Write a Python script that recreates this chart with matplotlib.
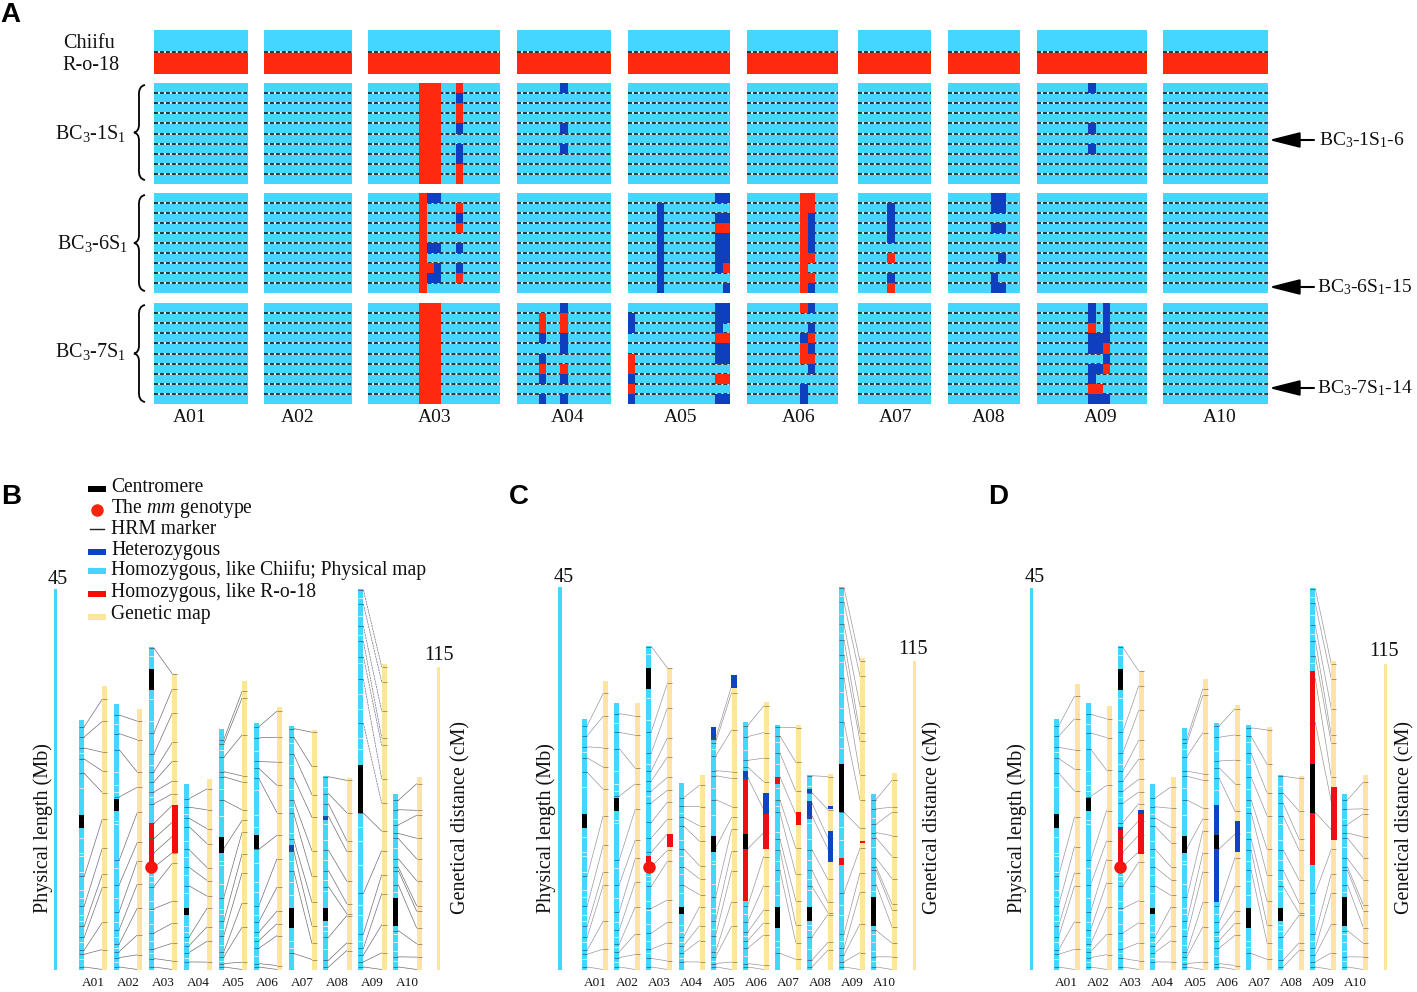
import numpy as np
import matplotlib
matplotlib.use('Agg')
import matplotlib.pyplot as plt
from matplotlib.colors import ListedColormap
from matplotlib.path import Path
from matplotlib.patches import PathPatch, Rectangle

plt.rcParams['font.family'] = ['Liberation Serif', 'DejaVu Serif']
plt.rcParams['mathtext.fontset'] = 'custom'
plt.rcParams['mathtext.rm'] = 'Liberation Serif'
plt.rcParams['mathtext.it'] = 'Liberation Serif:italic'
plt.rcParams['mathtext.default'] = 'regular'

CYAN = '#45D6FF'
RED_A = '#FF2A0E'
BLUE_A = '#0D3FBF'
RED_M = '#F00E0E'
BLUE_M = '#0B45C4'
YELLOW = '#FDE59B'

chroms = ['A01', 'A02', 'A03', 'A04', 'A05', 'A06', 'A07', 'A08', 'A09', 'A10']

# panel A: number of markers per chromosome, rows are plants in each family
n_markers = [13, 12, 18, 13, 14, 12, 10, 10, 15, 14]

# column index -> genotype of the 10 plants ('.' Chiifu, 'h' het, 'r' R-o-18)
bc3_1s1 = {
    'A03': {7: 'rrrrrrrrrr', 8: 'rrrrrrrrrr', 9: 'rrrrrrrrrr', 12: 'rhrrh.hhrr'},
    'A04': {6: 'h...h.h...'},
    'A09': {7: 'h...h.h...'},
}
bc3_6s1 = {
    'A03': {7: 'rrrrrrrrrr', 8: 'h....h.rh.', 9: 'h....h.hh.', 12: '.rhr.h.hr.'},
    'A05': {4: '.hhhhhhhhh', 12: 'h.hrhhhh..', 13: 'h.hrhhhr.h'},
    'A06': {7: 'rrrrrrrrrr', 8: 'rrhhhhr.rh'},
    'A07': {4: '.hhhh.r.hr'},
    'A08': {6: 'hh.h....hh', 7: 'hh.h..h..h'},
}
bc3_7s1 = {
    'A03': {7: 'rrrrrrrrrr', 8: 'rrrrrrrrrr', 9: 'rrrrrrrrrr'},
    'A04': {3: '.rrh.hrh.h', 6: 'hrrhh.rh.h'},
    'A05': {0: '.hh..rrhrh', 12: 'hhhrhh.r.h', 13: 'hh.rhh.r.h'},
    'A06': {7: 'r..hrr..hh', 8: 'h.hrhrh...'},
    'A09': {7: 'hhrhh.hhrh', 8: '...hh.h.rh', 9: 'hhhhrhr..h'},
}
families = [bc3_1s1, bc3_6s1, bc3_7s1]
family_labels = ['BC$_3$-1S$_1$', 'BC$_3$-6S$_1$', 'BC$_3$-7S$_1$']

# physical (Mb) and genetic (cM) map
phys_len = [29.5, 31.4, 38.1, 21.9, 28.5, 29.1, 28.8, 22.9, 45.0, 20.7]
gen_len = [107.6, 99.2, 112.4, 72.5, 109.5, 99.7, 91.1, 72.7, 116.2, 73.1]
centromere = [(16.7, 18.3), (18.7, 20.2), (33.0, 35.5), (6.5, 7.3), (13.8, 15.7),
              (14.2, 15.9), (4.9, 7.3), (5.7, 7.3), (18.5, 24.2), (5.1, 8.5)]

mk_phys = [
    [28.7, 27.5, 26.2, 24.9, 23.2, 11.0, 7.5, 5.1, 3.8, 2.3, 1.8, 0.3],
    [30.1, 27.9, 26.0, 20.4, 12.9, 10.0, 6.8, 4.7, 3.0, 2.1, 1.4, 0.3],
    [38.0, 28.0, 25.5, 23.4, 22.2, 21.0, 19.6, 17.3, 15.5, 13.8, 12.1, 9.8, 7.2, 4.3, 2.4, 1.3, 0.3],
    [20.2, 19.2, 17.9, 16.9, 14.2, 12.1, 9.9, 3.8, 2.8, 2.0, 0.9],
    [27.2, 26.7, 25.1, 23.4, 22.8, 20.0, 14.3, 8.5, 5.7, 4.0, 2.1, 1.5, 0.7, 0.3],
    [28.7, 27.4, 24.6, 23.8, 22.6, 14.2, 7.5, 5.6, 4.4, 3.4, 2.5, 0.7, 0.3],
    [28.5, 27.5, 25.5, 22.7, 20.0, 18.5, 15.4, 14.1, 11.7, 1.9],
    [22.8, 20.8, 19.6, 18.1, 14.1, 11.7, 9.8, 3.8, 1.1, 0.3],
    [44.9, 43.2, 40.6, 38.8, 37.0, 34.3, 29.1, 18.5, 9.0, 4.2, 2.5, 1.7, 0.9, 0.3],
    [20.0, 18.9, 17.1, 16.1, 15.5, 13.1, 12.1, 11.7, 10.0, 4.6, 1.5, 0.3],
]
mk_gen = [
    [102.9, 94.4, 82.6, 75.4, 67.2, 57.4, 46.3, 36.4, 31.4, 18.0, 7.6, 0.0],
    [94.4, 87.3, 75.0, 69.3, 59.8, 48.4, 41.4, 32.6, 23.4, 13.2, 5.6, 0.0],
    [112.4, 106.7, 97.5, 86.3, 79.2, 71.6, 66.8, 62.4, 56.0, 50.6, 44.4, 40.4, 25.9, 17.6, 10.0, 3.2, 0.0],
    [68.7, 60.7, 53.5, 47.8, 38.7, 33.8, 27.9, 23.4, 16.3, 10.8, 2.8],
    [105.7, 103.2, 89.2, 73.6, 71.2, 60.7, 56.7, 52.2, 44.0, 36.8, 25.3, 16.1, 2.8, 0.0],
    [98.2, 88.3, 78.8, 70.0, 59.6, 51.0, 42.1, 31.3, 22.2, 17.4, 12.9, 1.5, 0.0],
    [90.2, 77.2, 66.5, 57.9, 45.2, 35.5, 25.6, 16.7, 10.0, 3.8],
    [71.9, 59.6, 49.0, 44.9, 33.6, 25.0, 21.2, 20.5, 10.1, 7.2],
    [115.0, 109.3, 98.2, 88.1, 85.2, 72.5, 63.2, 52.6, 45.2, 36.0, 28.8, 17.0, 6.3, 0.0],
    [70.6, 60.5, 58.6, 49.9, 42.1, 33.8, 24.3, 22.2, 15.8, 9.8, 4.7, 0.0],
]
# pale stripes along the physical bars (SNP gaps)
phys_gaps = [
    [25.6, 21.5, 15.6, 13.8, 13.4, 11.5, 9.4, 8.5, 6.4, 5.7, 3.2, 1.2],
    [29.0, 23.4, 21.8, 21.0, 17.6, 17.2, 12.0, 8.4, 5.6, 3.8, 2.6, 0.9],
    [37.1, 32.0, 29.4, 24.2, 20.4, 11.0, 10.4, 8.1, 7.0, 5.4, 3.4, 1.9],
    [18.4, 15.2, 13.3, 11.2, 9.0, 5.2, 4.4, 3.2, 1.4],
    [26.0, 21.4, 18.2, 12.8, 12.4, 10.1, 7.2, 6.6, 4.8, 2.9, 1.0],
    [25.8, 21.2, 18.3, 16.8, 12.6, 10.4, 9.2, 6.5, 3.9, 1.6],
    [26.8, 24.2, 21.3, 19.2, 16.2, 12.8, 10.4, 8.8, 3.4, 2.6],
    [21.6, 17.2, 15.3, 12.9, 10.6, 9.3, 5.2, 4.6, 2.4],
    [43.9, 41.8, 39.6, 36.2, 32.6, 30.8, 27.4, 26.1, 16.8, 15.2, 12.4, 7.6, 6.4, 3.4],
    [17.8, 14.4, 9.2, 4.2, 3.2, 2.2, 1.0],
]

# genotype stretches per panel: (chromosome index, start, end, colour code)
panel_b_phys = [(2, 12.1, 17.3, 'r'), (6, 13.9, 14.7, 'h'), (7, 17.7, 18.1, 'h')]
panel_b_gen = [(2, 44.4, 62.4, 'r')]
panel_c_phys = [(2, 12.7, 13.3, 'r'), (4, 27.0, 28.5, 'h'), (5, 22.4, 23.4, 'h'), (5, 8.1, 22.4, 'r'),
                (6, 21.8, 22.7, 'r'), (7, 20.8, 21.2, 'h'), (7, 17.7, 19.8, 'h'), (8, 12.3, 13.1, 'r')]
panel_c_gen = [(2, 45.5, 50.6, 'r'), (4, 104.8, 109.9, 'h'), (5, 57.9, 65.8, 'h'), (5, 44.9, 57.9, 'r'),
               (6, 53.7, 58.6, 'r'), (7, 59.8, 61.1, 'h'), (7, 40.2, 51.8, 'h'), (8, 47.3, 48.0, 'r')]
panel_d_phys = [(2, 16.4, 16.8, 'h'), (2, 12.6, 16.4, 'r'), (5, 8.0, 19.4, 'h'), (8, 12.3, 35.2, 'r')]
panel_d_gen = [(2, 58.6, 60.2, 'h'), (2, 43.3, 58.6, 'r'), (5, 44.2, 55.8, 'h'), (8, 48.7, 68.8, 'r')]
mm_locus = 12.1

W, H = 1417, 992
fig = plt.figure(figsize=(W / 100, H / 100), dpi=100)


def px_axes(left, top, right, bottom):
    ax = fig.add_axes([left / W, 1 - bottom / H, (right - left) / W, (bottom - top) / H])
    ax.axis('off')
    return ax


# overlay used only for labels and decorations, in pixels
ov = fig.add_axes([0, 0, 1, 1], zorder=10)
ov.set_xlim(0, W)
ov.set_ylim(H, 0)
ov.axis('off')


def label(x, y, s, size=14, **kw):
    kw.setdefault('ha', 'center')
    kw.setdefault('va', 'center')
    if 'rotation' in kw:
        x += 2.5
    elif '$' not in s:
        y += 2
    ov.text(x, y, s, fontsize=size, color='#111111', **kw)


# ---- panel A ----
block_left = [154, 264, 368, 517, 628, 747, 858, 948, 1037, 1163]
block_right = [248, 352, 500, 611, 730, 838, 931, 1020, 1147, 1268]
chrom_label_x = [190, 298, 435, 568, 681, 799, 896, 989, 1101, 1220]
cmap_a = ListedColormap([BLUE_A, RED_A])
codes = {'h': 0, 'r': 1}
dash = (0, (2.6, 1.3))

for i, name in enumerate(chroms):
    # parents
    ax = px_axes(block_left[i], 30, block_right[i], 74)
    ax.set_xlim(0, 1)
    ax.set_ylim(2, 0)
    ax.barh([0.5, 1.5], [1, 1], height=1, color=[CYAN, RED_A])
    ax.hlines(1, 0, 1, color='white', lw=1.1)
    ax.hlines(1, 0, 1, color='k', lw=1.1, linestyles=dash)

    for fam, top, bot in zip(families, [83, 193, 303], [184, 293, 404]):
        ax = px_axes(block_left[i], top, block_right[i], bot)
        n = n_markers[i]
        mat = np.full((10, n), np.nan)
        for col, calls in fam.get(name, {}).items():
            for row, c in enumerate(calls):
                if c in codes:
                    mat[row, col] = codes[c]
        ax.set_facecolor(CYAN)
        ax.axis('on')
        ax.set_xticks([])
        ax.set_yticks([])
        for s in ax.spines.values():
            s.set_visible(False)
        ax.set_xlim(0, n)
        ax.set_ylim(10, 0)
        rows = np.arange(1, 10)
        ax.hlines(rows, 0, n, color='white', lw=1.1, zorder=1)
        ax.hlines(rows, 0, n, color='k', lw=1.1, linestyles=dash, zorder=2)
        ax.pcolormesh(np.arange(n + 1), np.arange(11), np.ma.masked_invalid(mat),
                      cmap=cmap_a, vmin=0, vmax=1, zorder=3)
    label(chrom_label_x[i], 415, name, 14)

label(89, 41.5, 'Chiifu', 14.5)
label(91, 64, 'R-o-18', 14.5)

for lab, lx, ly, top, bot in zip(family_labels, [90, 92, 90], [133, 244, 352], [85, 195, 305], [180, 291, 402]):
    label(lx, ly, lab, 14.5)
    cy = (top + bot) / 2
    verts = [(145, top), (138, top + 1), (139, top + 12), (139, cy - 8), (139, cy - 8), (139, cy - 1),
             (134, cy), (139, cy + 1), (139, cy + 8), (139, cy + 8), (139, bot - 12), (138, bot - 1), (145, bot)]
    pcodes = [Path.MOVETO, Path.CURVE3, Path.CURVE3, Path.LINETO, Path.LINETO, Path.CURVE3, Path.CURVE3,
              Path.CURVE3, Path.CURVE3, Path.LINETO, Path.LINETO, Path.CURVE3, Path.CURVE3]
    ov.add_patch(PathPatch(Path(verts, pcodes), fc='none', ec='k', lw=1.3))

for txt, tx, ay in zip(['BC$_3$-1S$_1$-6', 'BC$_3$-6S$_1$-15', 'BC$_3$-7S$_1$-14'], [1319, 1317, 1317], [140, 287, 388]):
    ov.annotate('', xy=(1269, ay), xytext=(1314, ay),
                arrowprops=dict(arrowstyle='-|>,head_length=1.9,head_width=0.48', color='k', lw=1.5,
                                shrinkA=0, shrinkB=0))
    label(tx, ay, txt, 14, ha='left')


# ---- panels B, C, D ----
def draw_map(x0, step, gen_off, ref_left, ref_right, top, gen_top, bottom,
             seg_phys, seg_gen, line_col, dashed_top=False):
    ax = px_axes(x0 - step, top, x0 + 11 * step, bottom)
    ax.set_xlim(-1, 11)
    ax.set_ylim(0, 45)
    off = gen_off / step
    bw = 5 / step
    k = 45 * (bottom - gen_top) / (bottom - top) / 115

    ax.bar((ref_left - x0) / step, 45, width=3.5 / step, color=CYAN, align='center')
    ax.bar((ref_right - x0) / step, 115 * k, width=3 / step, color=YELLOW, align='center')

    colors = {'r': RED_M, 'h': BLUE_M}
    for i in range(10):
        p = np.array(mk_phys[i])
        g = np.array(mk_gen[i]) * k
        for n, (a, b) in enumerate(zip(p, g)):
            ls = (0, (3, 1)) if dashed_top and i == 8 and n < 7 else '-'
            ax.plot([i + bw / 2, i + off - bw / 2], [a, b], color=line_col, lw=0.5, ls=ls, zorder=1)
        ax.bar(i, phys_len[i], width=bw, color=CYAN, zorder=2)
        ax.bar(i + off, gen_len[i] * k, width=bw, color=YELLOW, zorder=2)
        ax.hlines(phys_gaps[i], i - bw / 2, i + bw / 2, color='#D2F3FF', lw=0.7, zorder=3)
        for c, s, e, code in seg_phys:
            if c == i:
                ax.bar(i, e - s, bottom=s, width=bw, color=colors[code], zorder=4)
        for c, s, e, code in seg_gen:
            if c == i:
                ax.bar(i + off, (e - s) * k, bottom=s * k, width=bw * 1.1, color=colors[code], zorder=4)
        ax.hlines(p, i - bw / 2, i + bw / 2, color='#2A5A70', lw=0.5, zorder=5)
        ax.hlines(g, i + off - bw / 2, i + off + bw / 2, color='#857556', lw=0.5, zorder=3)
        cs, ce = centromere[i]
        ax.bar(i, ce - cs, bottom=cs, width=bw, color='k', zorder=6)
    ax.plot([2], [mm_locus], 'o', color='#F5140E', ms=9, mec='none', zorder=7, clip_on=False)
    return ax


draw_map(81.7, 34.9, 23.3, 55.7, 439, 589, 667, 969.5, panel_b_phys, panel_b_gen, '#707070', dashed_top=True)
draw_map(584.7, 32.1, 21, 560, 914, 587, 661, 969.5, panel_c_phys, panel_c_gen, '#999999')
draw_map(1056, 32.1, 21, 1031.7, 1385, 588, 664, 969.5, panel_d_phys, panel_d_gen, '#999999')

for x0, step, x45, y45, x115, y115, xl, xr in [(93.3, 34.9, 58, 578, 439, 654, 41, 458),
                                               (595.5, 32.1, 564, 575, 913, 648, 544, 930),
                                               (1066.5, 32.1, 1035, 575, 1384, 649, 1015, 1402)]:
    for i, name in enumerate(chroms):
        label(x0 + i * step, 981, name, 9.5)
    label(x45, y45, '45', 14.5)
    label(x115, y115, '115', 14.5)
    label(xl, 828, 'Physical length (Mb)', 14.5, rotation=90)
    label(xr, 817, 'Genetical distance (cM)', 14.5, rotation=90)

# legend of panel B
legend_items = [('Centromere', 485, 489, 'k'), ('The $\\mathit{mm}$ genotype', 508, None, None),
                ('HRM marker', 528, None, None), ('Heterozygous', 549, 552, BLUE_M),
                ('Homozygous, like Chiifu; Physical map', 568, 571, CYAN),
                ('Homozygous, like R-o-18', 590, 594, RED_M), ('Genetic map', 613, 617, YELLOW)]
for txt, ty, sy, col in legend_items:
    label(111, ty, txt, 14.1, ha='left')
    if col is not None:
        ov.add_patch(Rectangle((88, sy - 3), 18, 6, color=col, lw=0))
ov.plot([96.5], [510], 'o', color='#F5250E', ms=9, mec='none')
ov.plot([90, 104], [529, 529], color='#222222', lw=1)

for s, x, y in [('A', 10, 15), ('B', 11, 497), ('C', 519, 497), ('D', 998, 497)]:
    ov.text(x, y, s, fontsize=20, fontweight='bold', family='Liberation Sans', ha='center', va='center', color='k')

fig.savefig('out.png', dpi=100)
